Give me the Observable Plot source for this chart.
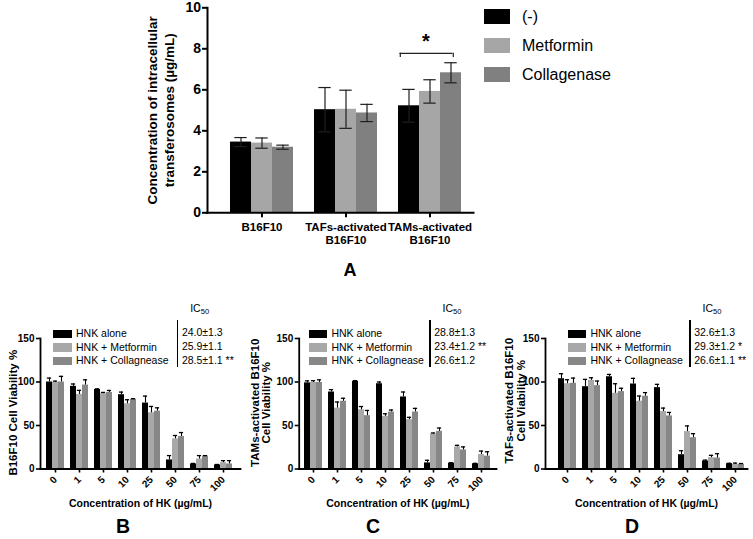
<!DOCTYPE html>
<html><head><meta charset="utf-8">
<script src="https://cdn.jsdelivr.net/npm/d3@7"></script>
<script src="https://cdn.jsdelivr.net/npm/@observablehq/plot@0.6"></script>
<style>
body{margin:0;background:#fff;}
#fig{position:relative;width:753px;height:539px;overflow:hidden;font-family:"Liberation Sans",Arial,Helvetica,sans-serif;background:#fff;color:#000;}
#fig svg{position:absolute;overflow:visible;max-width:none;}
.abs{position:absolute;white-space:nowrap;line-height:1;}
.sw{position:absolute;}
sub{font-size:0.72em;vertical-align:-0.28em;line-height:0;}
</style></head><body><div id="fig"></div>
<script>
// ---------- Panel A data ----------
const seriesA = ["(-)", "Metformin", "Collagenase"];
const cellsA = ["B16F10", "TAFs-activated\nB16F10", "TAMs-activated\nB16F10"];
const aNone = [3.45, 5.03, 5.22];
const aNoneSd = [0.22, 1.08, 0.80];
const aMet = [3.40, 5.05, 5.92];
const aMetSd = [0.25, 0.93, 0.57];
const aCol = [3.20, 4.87, 6.83];
const aColSd = [0.10, 0.42, 0.49];
const ticksA = [0, 2, 4, 6, 8, 10];
const yTitleA = "Concentration of intracellular\ntransferosomes (\u00b5g/mL)";
const sigCellA = 2, sigFromA = 0, sigToA = 2, sigYA = 7.78, sigLabelA = "*";

// ---------- Panels B, C, D data ----------
const concLabels = ["0", "1", "5", "10", "25", "50", "75", "100"];
const treatments = ["HNK alone", "HNK + Metformin", "HNK + Collagnease"];
const ticksV = [0, 50, 100, 150];
const xTitleV = "Concentration of HK (\u00b5g/mL)";

const bAlone = [100, 95, 91.5, 85.4, 75.8, 10.4, 5.8, 4.6];
const bAloneSd = [4.5, 2.7, 0.6, 3, 8, 5, 0.6, 0.6];
const bMet = [99.5, 85.8, 86.5, 75, 64.6, 34.6, 11.5, 7.3];
const bMetSd = [1.5, 4.6, 1.5, 4.6, 7.3, 3.9, 3.9, 2.3];
const bCol = [100, 96.5, 88, 80, 66.5, 37.3, 14.6, 5.8];
const bColSd = [6.5, 6, 2.3, 0.8, 3.8, 4.6, 0.8, 3.8];
const icB = ["24.0\u00b11.3", "25.9\u00b11.1", "28.5\u00b11.1 **"];

const cAlone = [99, 88.5, 100.8, 98, 82.8, 7, 6.7, 6];
const cAloneSd = [2.3, 2.7, 0.8, 2, 5.7, 3, 0.5, 0.5];
const cMet = [99.5, 70, 68, 60.5, 56.7, 40.2, 25.4, 16.6];
const cMetSd = [2, 7, 3.8, 3, 2.7, 1.2, 1.8, 4];
const cCol = [99.5, 77.8, 61.3, 65.5, 65.5, 43.3, 21.9, 14.8];
const cColSd = [3, 3.5, 6, 2.3, 4.2, 3.8, 3.5, 5];
const icC = ["28.8\u00b11.3", "23.4\u00b11.2 **", "26.6\u00b11.2"];

const dAlone = [103.8, 94.6, 106, 97.7, 93.5, 16.4, 9.2, 6.1];
const dAloneSd = [5.7, 8.4, 2.7, 6.5, 3.8, 4.6, 1, 0.5];
const dMet = [98, 101.9, 87, 77.9, 66, 43, 13, 5.3];
const dMetSd = [4.6, 3, 11, 6, 4, 6.5, 2.7, 1.5];
const dCol = [98.5, 95.8, 89, 83.6, 61, 36, 12.6, 5.3];
const dColSd = [6, 5.3, 3.8, 4.2, 4, 4.6, 5, 1];
const icD = ["32.6\u00b11.3", "29.3\u00b11.2 *", "26.6\u00b11.1 **"];

// ---------- styling ----------
const FONT = '"Liberation Sans", Arial, Helvetica, sans-serif';
const colorsA = ["#000000", "#a6a6a6", "#808080"];
const colorsV = ["#000000", "#a8a8a8", "#878787"];
const fig = document.getElementById("fig");
const svgStyle = {background: "transparent", fontFamily: FONT, color: "#000", overflow: "visible"};

function addText(html, x, baseline, size, opts = {}) {
  const d = document.createElement("div");
  d.className = "abs";
  d.style.fontSize = size + "px";
  if (opts.bold) d.style.fontWeight = "bold";
  d.innerHTML = html;
  d.style.left = x + "px";
  d.style.top = (baseline - 0.8465 * size) + "px";
  if (opts.anchor === "middle") d.style.transform = "translateX(-50%)";
  fig.appendChild(d);
}
function addBox(x, y, w, h, color) {
  const d = document.createElement("div");
  d.className = "sw";
  Object.assign(d.style, {left: x + "px", top: y + "px", width: w + "px", height: h + "px", background: color});
  fig.appendChild(d);
}

// ---------- Panel A ----------
{
  const vals = [[aNone, aNoneSd], [aMet, aMetSd], [aCol, aColSd]];
  const dom = [], rows = [];
  cellsA.forEach((c, g) => {
    if (g > 0) dom.push("gap" + g);
    seriesA.forEach((s, i) => {
      const k = g + "-" + i;
      dom.push(k);
      rows.push({key: k, series: s, value: vals[i][0][g], sd: vals[i][1][g]});
    });
  });
  const mid = cellsA.map((c, g) => g + "-1");
  const sig = [{x1: sigCellA + "-" + sigFromA, x2: sigCellA + "-" + sigToA, y: sigYA}];
  const plotA = Plot.plot({
    width: 753, height: 290,
    marginLeft: 207, marginRight: 280, marginTop: 7.3, marginBottom: 77.7,
    style: svgStyle,
    x: {type: "band", domain: dom, range: [227.3, 463.4], padding: 0, axis: null},
    y: {domain: [0, 10], axis: null},
    color: {domain: seriesA, range: colorsA},
    marks: [
      Plot.barY(rows, {x: "key", y: "value", fill: "series"}),
      Plot.ruleX(rows, {x: "key", y1: d => d.value - d.sd, y2: d => d.value + d.sd, stroke: "#1e1e1e", strokeWidth: 1.2}),
      Plot.tickY(rows, {x: "key", y: d => d.value + d.sd, stroke: "#1e1e1e", strokeWidth: 1.2, insetLeft: 4.3, insetRight: 4.3}),
      Plot.tickY(rows, {x: "key", y: d => d.value - d.sd, stroke: "#1e1e1e", strokeWidth: 1.2, insetLeft: 4.3, insetRight: 4.3}),
      Plot.ruleY(sig, {x1: "x1", x2: "x2", y: "y", stroke: "#222", strokeWidth: 1.2, insetLeft: 1.5, insetRight: 8.5}),
      Plot.ruleX(sig, {x: "x1", y1: d => d.y - 0.2, y2: "y", stroke: "#222", strokeWidth: 1.2, dx: -8.7}),
      Plot.ruleX(sig, {x: "x2", y1: d => d.y - 0.2, y2: "y", stroke: "#222", strokeWidth: 1.2, dx: 2.3}),
      Plot.text(sig, {x: "x1", y: "y", text: () => sigLabelA, dx: 17, dy: -5, fontSize: 20, fontWeight: "bold", lineAnchor: "bottom"}),
      Plot.axisY({ticks: ticksA, tickSize: 5, tickPadding: 1.5, fontSize: 14, fontWeight: "bold", label: null, strokeWidth: 2}),
      Plot.axisX({ticks: mid, tickFormat: k => cellsA[+k.split("-")[0]], tickSize: 5, tickPadding: 4, fontSize: 11.5, fontWeight: "bold", lineHeight: 1.12, label: null, strokeWidth: 2}),
      Plot.frame({anchor: "left", strokeWidth: 2}),
      Plot.frame({anchor: "bottom", strokeWidth: 2}),
      Plot.text([yTitleA], {text: d => d, frameAnchor: "left", textAnchor: "middle", lineAnchor: "middle", rotate: -90, dx: -47, fontSize: 13.5, fontWeight: "bold", lineHeight: 1.25})
    ]
  });
  plotA.style.left = "0px"; plotA.style.top = "0px";
  fig.appendChild(plotA);
  // legend A
  const legY = [9, 38, 67];
  seriesA.forEach((s, i) => {
    addBox(484, legY[i], 26, 15, colorsA[i]);
    addText(s, 522, legY[i] + 13.5, 16);
  });
  addText("A", 350, 276, 18, {bold: true, anchor: "middle"});
}

// ---------- Panels B, C, D ----------
function viabilityPanel(cfg) {
  const vals = [[cfg.alone, cfg.aloneSd], [cfg.met, cfg.metSd], [cfg.col, cfg.colSd]];
  const dom = [], rows = [];
  concLabels.forEach((c, g) => {
    if (g > 0) dom.push("gap" + g);
    treatments.forEach((t, i) => {
      const k = g + "-" + i;
      dom.push(k);
      rows.push({key: k, treatment: t, value: vals[i][0][g], sd: vals[i][1][g]});
    });
  });
  const mid = concLabels.map((c, g) => g + "-1");
  const L = cfg.left, T = 285;
  const x0 = cfg.firstBar - L;
  const plot = Plot.plot({
    width: cfg.width, height: 254,
    marginLeft: cfg.axisX - L, marginRight: L + cfg.width - cfg.axisEnd,
    marginTop: 338 - T, marginBottom: 539 - 468.5,
    style: svgStyle,
    x: {type: "band", domain: dom, range: [x0, x0 + dom.length * cfg.band], padding: 0, axis: null},
    y: {domain: [0, 150], axis: null},
    color: {domain: treatments, range: colorsV},
    marks: [
      Plot.barY(rows, {x: "key", y: "value", fill: "treatment"}),
      Plot.ruleX(rows, {x: "key", y1: "value", y2: d => d.value + d.sd, stroke: "#000", strokeWidth: 1.1}),
      Plot.tickY(rows, {x: "key", y: d => d.value + d.sd, stroke: "#000", strokeWidth: 1.3, insetLeft: 0.9, insetRight: 0.9}),
      Plot.axisY({ticks: ticksV, tickSize: 4, tickPadding: 2, fontSize: 10, fontWeight: "bold", label: null, strokeWidth: 1.6}),
      Plot.axisX({ticks: mid, tickFormat: k => concLabels[+k.split("-")[0]], tickRotate: -45, tickSize: 4, tickPadding: 5, fontSize: 10, fontWeight: "bold", label: null, strokeWidth: 1.6}),
      Plot.frame({anchor: "left", strokeWidth: 1.8}),
      Plot.frame({anchor: "bottom", strokeWidth: 1.8}),
      Plot.text([cfg.yTitle], {text: d => d, frameAnchor: "left", textAnchor: "middle", lineAnchor: "middle", rotate: -90, dx: cfg.yTitleDx, dy: cfg.yTitleDy, fontSize: 11.5, fontWeight: "bold", lineHeight: 1.03}),
      Plot.text([xTitleV], {text: d => d, frameAnchor: "bottom", textAnchor: "middle", lineAnchor: "middle", dy: 35, fontSize: 10.5, fontWeight: "bold"})
    ]
  });
  plot.style.left = L + "px"; plot.style.top = T + "px";
  fig.appendChild(plot);
  // legend + IC50 table
  const rowBase = [337, 350.7, 364.3];
  treatments.forEach((t, i) => {
    addBox(cfg.legX, rowBase[i] - 7.5, 18.4, 8.5, colorsV[i]);
    addText(t, cfg.legX + 22.7, rowBase[i], 10.5);
    addText(cfg.ic[i], cfg.vline + 4.2, rowBase[i] - 0.8, 10.5);
  });
  addBox(cfg.vline - 0.6, 320, 1.3, 47, "#000");
  addText("IC<sub>50</sub>", cfg.vline + 12.5, 312, 10.5);
  addText(cfg.letter, cfg.letterX, 534, 19.5, {bold: true, anchor: "middle"});
}

viabilityPanel({left: 0, width: 250, axisX: 40, axisEnd: 240, firstBar: 43.3, band: 6.19,
  alone: bAlone, aloneSd: bAloneSd, met: bMet, metSd: bMetSd, col: bCol, colSd: bColSd,
  yTitle: "B16F10 Cell Viability %", yTitleDx: -27.5, yTitleDy: 9,
  legX: 53.3, vline: 177.7, ic: icB, letter: "B", letterX: 123});
viabilityPanel({left: 250, width: 253, axisX: 298.7, axisEnd: 496, firstBar: 301, band: 6.19,
  alone: cAlone, aloneSd: cAloneSd, met: cMet, metSd: cMetSd, col: cCol, colSd: cColSd,
  yTitle: "TAMs-activated B16F10\nCell Viability %", yTitleDx: -38.5, yTitleDy: -1,
  legX: 308.7, vline: 430, ic: icC, letter: "C", letterX: 373});
viabilityPanel({left: 503, width: 250, axisX: 545, axisEnd: 747, firstBar: 555.7, band: 6.125,
  alone: dAlone, aloneSd: dAloneSd, met: dMet, metSd: dMetSd, col: dCol, colSd: dColSd,
  yTitle: "TAFs-activated B16F10\nCell Viability %", yTitleDx: -30.5, yTitleDy: -3,
  legX: 567.7, vline: 690, ic: icD, letter: "D", letterX: 632});
</script></body></html>
